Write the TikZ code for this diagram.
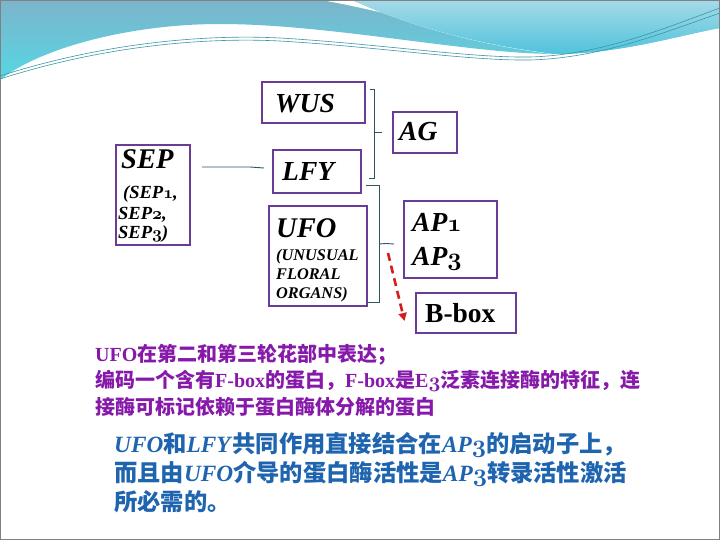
\documentclass[tikz,border=0pt]{standalone}
\usepackage{fontspec}
\setmainfont{Liberation Serif}
\newfontfamily\cjk{Noto Sans CJK SC}
\usetikzlibrary{arrows.meta}
\definecolor{boxc}{RGB}{105,60,150}
\definecolor{brkc}{RGB}{45,85,100}
\definecolor{purt}{RGB}{135,25,170}
\definecolor{blut}{RGB}{30,100,175}
\definecolor{arrc}{RGB}{210,30,30}
\definecolor{wavetop}{RGB}{125,180,202}
\definecolor{wavebot}{RGB}{85,215,228}
\definecolor{wrtop}{RGB}{165,218,232}
\definecolor{wrbot}{RGB}{80,195,220}
\definecolor{wline}{RGB}{60,150,165}
\newcommand\osn[1]{{\usefont{OML}{cmm}{b}{it}#1}}
\newcommand\cjt[1]{{\cjk\bfseries #1}}
\tikzset{
  genebox/.style={draw=boxc, line width=2.6pt, inner sep=0pt, fill=none},
  lbl/.style={font=\fontsize{27.5}{27}\selectfont\bfseries\itshape, inner sep=0pt, anchor=base west},
  sublbl/.style={font=\fontsize{16.3}{16}\selectfont\bfseries\itshape, inner sep=0pt, anchor=base west},
  seplbl/.style={font=\fontsize{18.5}{18}\selectfont\bfseries\itshape, inner sep=0pt, anchor=base west},
  brk/.style={draw=brkc, line width=0.9pt},
  ptxt/.style={text=purt, font=\fontsize{20}{20}\selectfont\bfseries, inner sep=0pt, anchor=base west},
  btxt/.style={text=blut, font=\fontsize{23.3}{24}\selectfont\bfseries, inner sep=0pt, anchor=base west},
}
\begin{document}
\begin{tikzpicture}[x=1pt,y=-1pt]
\useasboundingbox (0,0) rectangle (720,540);
\fill[white] (0,0) rectangle (720,540);
% background wave
\shade[top color=wavetop, bottom color=wavebot]
  (0,0) -- (720,0) -- (720,28) .. controls (680,35) and (620,54) .. (555,54)
  .. controls (470,54) and (330,24) .. (220,24) .. controls (130,24) and (40,48) .. (0,80) -- cycle;
\fill[white] (321,0) .. controls (390,12) and (470,36) .. (552,54)
  .. controls (470,44) and (400,22) .. (352,0) -- cycle;
\shade[top color=wrtop, bottom color=wrbot]
  (352,0) -- (720,0) -- (720,28) .. controls (680,35) and (620,54) .. (555,54)
  .. controls (470,44) and (400,22) .. (352,0) -- cycle;
\draw[wline, line width=0.6pt] (0,76) .. controls (100,44) and (200,34) .. (280,38)
  .. controls (380,44) and (470,58) .. (530,57) .. controls (600,55) and (660,30) .. (720,8);
\draw[wline, line width=0.6pt] (0,79) .. controls (100,47) and (200,37) .. (280,41)
  .. controls (380,47) and (470,61) .. (530,60) .. controls (600,58) and (660,34) .. (720,13);
\draw[gray, line width=1.2pt] (0.6,0.6) rectangle (719.4,539.4);

% boxes
\node[genebox, minimum width=103pt, minimum height=41pt] (wus) at (313.5,102.5) {};
\node[genebox, minimum width=88pt, minimum height=43pt] (lfy) at (317,171.5) {};
\node[genebox, minimum width=74pt, minimum height=100pt] (sep) at (153,195) {};
\node[genebox, minimum width=98pt, minimum height=100pt] (ufo) at (318,256) {};
\node[genebox, minimum width=64pt, minimum height=41pt] (ag) at (425,132.5) {};
\node[genebox, minimum width=93pt, minimum height=77pt] (ap) at (450.5,239.5) {};
\node[genebox, minimum width=100pt, minimum height=40pt] (bbox) at (466,313) {};

% labels
\node[lbl] (wusT) at (275,113) {WUS};
\node[lbl] (lfyT) at (282,181) {LFY};
\node[lbl, font=\fontsize{28.5}{28}\selectfont\bfseries\itshape] (sepT) at (121,169) {SEP};
\node[seplbl] (sep1) at (123,199) {(SEP\osn1,};
\node[seplbl] (sep2) at (118,220) {SEP\osn2,};
\node[seplbl] (sep3) at (118,238) {SEP\osn3)};
\node[lbl, font=\fontsize{28.5}{28}\selectfont\bfseries\itshape] (ufoT) at (276,237) {UFO};
\node[sublbl] (ufo1) at (276,260) {(UNUSUAL};
\node[sublbl] (ufo2) at (276,279) {FLORAL};
\node[sublbl] (ufo3) at (276,298) {ORGANS)};
\node[lbl] (agT) at (399,141) {AG};
\node[lbl] (ap1T) at (412,232) {AP\osn1};
\node[lbl] (ap3T) at (412,265) {AP\osn3};
\node[lbl, font=\fontsize{27.5}{27}\selectfont\bfseries] (bboxT) at (425,322) {B-box};

% connectors
\coordinate (c1) at (202,167);
\coordinate (c2) at (250,167);
\coordinate (c3) at (264,168);
\draw[brk] (c1) -- (c2) -- (c3);
\draw[brk] (370,89) -- (374.5,89) -- (374.5,178) -- (369,178);
\coordinate (t1) at (382,132);
\draw[brk] (374.5,132) -- (t1);
\draw[brk] (366,185) -- (379,185) -- (379,302) -- (368,302);
\coordinate (t2) at (394,244);
\draw[brk] (379,244) .. controls (382,244) .. (386,243.5) -- (t2);
\coordinate (a1) at (388,253);
\coordinate (a2) at (404.5,321);
\draw[arrc, line width=2.6pt, dash pattern=on 8pt off 5pt, -{Triangle[length=8pt,width=8pt]}] (a1) -- (a2);

% purple text
\node[ptxt] (p1) at (95,361) {UFO\cjt{在第二和第三轮花部中表达；}};
\node[ptxt] (p2) at (95,387.5) {\cjt{编码一个含有}F-box\cjt{的蛋白，}F-box\cjt{是}E\osn3\cjt{泛素连接酶的特征，连}};
\node[ptxt] (p3) at (95,414) {\cjt{接酶可标记依赖于蛋白酶体分解的蛋白}};

% blue text
\node[btxt] (b1) at (114,452.5) {\textit{UFO}\cjt{和}\textit{LFY}\cjt{共同作用直接结合在}\textit{AP\osn3}\cjt{的启动子上，}};
\node[btxt] (b2) at (114,481.5) {\cjt{而且由}\textit{UFO}\cjt{介导的蛋白酶活性是}\textit{AP\osn3}\cjt{转录活性激活}};
\node[btxt] (b3) at (114,510) {\cjt{所必需的。}};
\end{tikzpicture}
\end{document}
